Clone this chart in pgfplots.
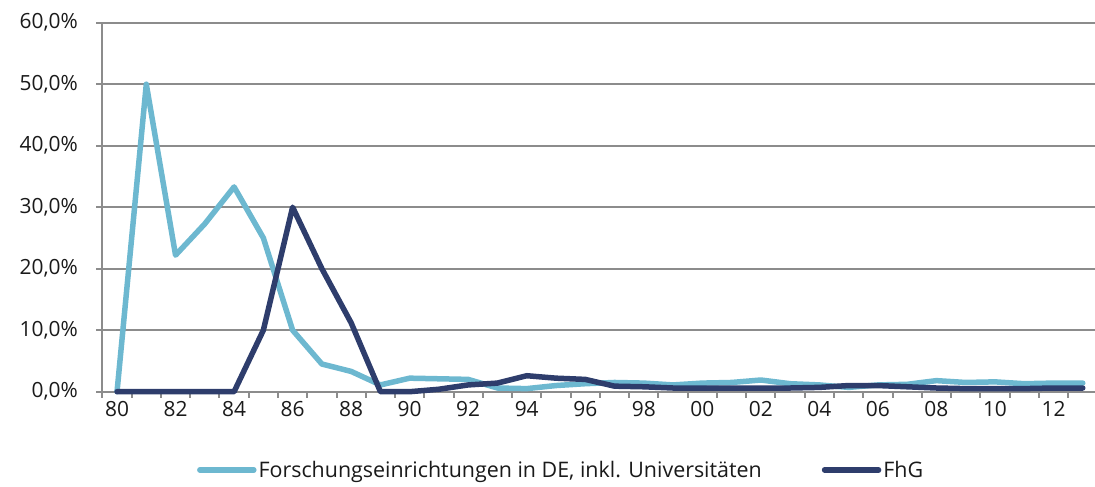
\documentclass[border=0pt]{standalone}
\usepackage{fontspec}
\setmainfont{Open Sans}
\usepackage{pgfplots}
\pgfplotsset{compat=1.18}
\definecolor{lightc}{HTML}{6DB8D0}
\definecolor{darkc}{HTML}{2E3D6C}
\definecolor{gridgray}{HTML}{8C8C8C}
\definecolor{txt}{HTML}{1A1A1A}
\begin{document}
\begin{tikzpicture}
\begin{axis}[
  at={(0,0)}, anchor=south west,
  scale only axis, width=995bp, height=369bp,
  xmin=-0.5, xmax=33.5, ymin=0, ymax=60,
  axis lines=left,
  axis line style={draw=gridgray, line width=2bp, -},
  ymajorgrids,
  major grid style={draw=gridgray, line width=2bp},
  ytick={0,10,...,60},
  yticklabels={{0,0\%},{10,0\%},{20,0\%},{30,0\%},{40,0\%},{50,0\%},{60,0\%}},
  xtick={0,2,...,32},
  xticklabels={80,82,84,86,88,90,92,94,96,98,00,02,04,06,08,10,12},
  minor xtick={-0.5,0.5,...,33.5},
  tick align=outside,
  major tick length=6bp,
  minor tick length=6bp,
  x tick style={draw=none},
  minor x tick style={draw=gridgray, line width=2bp},
  y tick style={draw=gridgray, line width=2bp},
  tick label style={font=\fontsize{21}{24}\selectfont, text=txt},
  yticklabel style={xshift=-15bp},
  legend style={at={(axis description cs:0.461,-0.212)}, anchor=center, draw=none,
    font=\fontsize{21.5}{24}\selectfont, text=txt,
    /tikz/every even column/.append style={column sep=58bp}},
  legend columns=2,
  legend cell align=left,
  legend image code/.code={\draw[#1, line width=5.5bp, line cap=round] (0bp,0bp) -- (54bp,0bp);},
  clip=false,
]
\addplot[lightc, line width=5.5bp, line join=round, line cap=round] coordinates {
(0,0) (1,50) (2,22.2) (3,27.3) (4,33.3) (5,25.0) (6,10.0) (7,4.5) (8,3.3) (9,1.1)
(10,2.2) (11,2.1) (12,2.0) (13,0.6) (14,0.5) (15,1.0) (16,1.3) (17,1.5) (18,1.4) (19,1.1)
(20,1.4) (21,1.5) (22,1.9) (23,1.3) (24,1.1) (25,0.7) (26,1.1) (27,1.2) (28,1.8) (29,1.5)
(30,1.6) (31,1.3) (32,1.4) (33,1.4)};
\addlegendentry{Forschungseinrichtungen in DE, inkl. Universitäten}
\addplot[darkc, line width=5.5bp, line join=round, line cap=round] coordinates {
(0,0) (1,0) (2,0) (3,0) (4,0) (5,10) (6,30) (7,20) (8,11.2) (9,0)
(10,0) (11,0.4) (12,1.1) (13,1.4) (14,2.6) (15,2.2) (16,2.0) (17,0.9) (18,0.8) (19,0.6)
(20,0.6) (21,0.6) (22,0.6) (23,0.6) (24,0.7) (25,1.0) (26,1.0) (27,0.8) (28,0.6) (29,0.5)
(30,0.5) (31,0.5) (32,0.6) (33,0.6)};
\addlegendentry{FhG}
\end{axis}
\pgfresetboundingbox
\useasboundingbox (-102.4bp,-95.3bp) rectangle (992.6bp,391.7bp);
\end{tikzpicture}
\end{document}
